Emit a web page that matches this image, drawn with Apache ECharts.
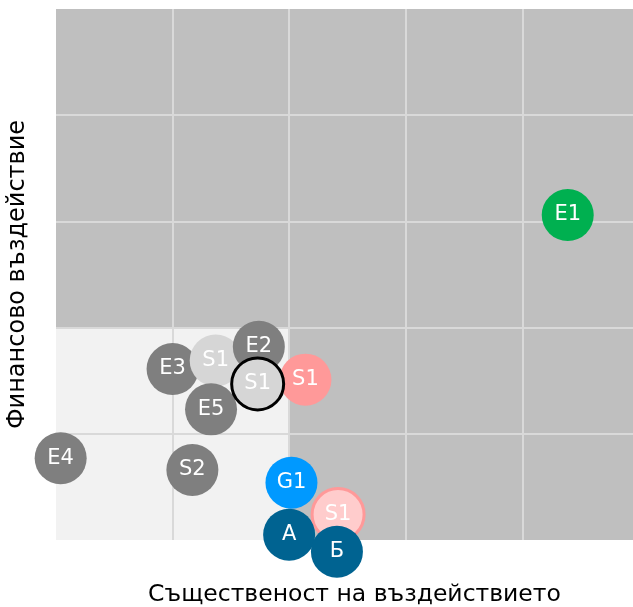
<!DOCTYPE html>
<html>
<head>
<meta charset="utf-8">
<script src="https://cdn.jsdelivr.net/npm/echarts@6/dist/echarts.min.js"></script>
<style>
  html, body { margin: 0; padding: 0; background: #fff; }
  #chart { width: 633px; height: 607px; }
</style>
</head>
<body>
<div id="chart"></div>
<script>
// bubbles, in drawing order (later ones on top)
const labels = ["E3", "S1", "E2", "E5", "S1", "S1", "E4", "S2", "G1", "S1", "A", "Б", "E1"];
const kinds = ["E", "S1gray", "E", "E", "S1pink", "S1ring", "E", "E", "G", "S1light", "AB", "AB", "E1"];
const xValues = [1.0, 1.37, 1.74, 1.33, 2.14, 1.73, 0.04, 1.17, 2.02, 2.42, 2.0, 2.41, 4.39];
const yValues = [1.61, 1.69, 1.82, 1.23, 1.51, 1.47, 0.77, 0.66, 0.54, 0.24, 0.05, -0.11, 3.06];

const xName = "Същественост на въздействието";
const yName = "Финансово въздействие";

const kindStyle = {
  E: { color: "#7f7f7f" },
  S1gray: { color: "#d6d6d6" },
  S1ring: { color: "#d6d6d6", borderColor: "#000", borderWidth: 3 },
  S1pink: { color: "#ff9999" },
  S1light: { color: "#ffcccc", borderColor: "#ff9999", borderWidth: 3 },
  G: { color: "#0099ff" },
  AB: { color: "#006391" },
  E1: { color: "#00b050" }
};

const points = labels.map((name, i) => ({
  name: name,
  value: [xValues[i], yValues[i]],
  itemStyle: Object.assign({ opacity: 1 }, kindStyle[kinds[i]])
}));

const chart = echarts.init(document.getElementById("chart"));
chart.setOption({
  animation: false,
  textStyle: { fontFamily: "DejaVu Sans" },
  grid: {
    left: 56, right: 0, top: 9, bottom: 67,
    outerBoundsMode: "none", containLabel: false,
    show: true, backgroundColor: "#bfbfbf", borderWidth: 0
  },
  xAxis: {
    type: "value", min: 0, max: 4.95, interval: 1, z: 2,
    name: xName, nameLocation: "middle", nameGap: 43,
    nameTextStyle: { fontSize: 23.5, color: "#000", fontFamily: "DejaVu Sans", padding: [0, 0, 0, 20] },
    axisLine: { show: false }, axisTick: { show: false }, axisLabel: { show: false },
    splitLine: { showMinLine: false, showMaxLine: false, lineStyle: { color: "#d9d9d9", width: 2 } }
  },
  yAxis: {
    type: "value", min: 0, max: 5, interval: 1, z: 2,
    name: yName, nameLocation: "middle", nameGap: 26,
    nameTextStyle: { fontSize: 24, color: "#000", fontFamily: "DejaVu Sans" },
    axisLine: { show: false }, axisTick: { show: false }, axisLabel: { show: false },
    splitLine: { showMinLine: false, showMaxLine: false, lineStyle: { color: "#d9d9d9", width: 2 } }
  },
  series: [
    {
      type: "scatter", z: 1, data: [], silent: true,
      markArea: {
        silent: true,
        itemStyle: { color: "#f2f2f2" },
        data: [[{ coord: [0, 0] }, { coord: [2, 2] }]]
      }
    },
    {
      type: "scatter", z: 3, clip: false,
      symbolSize: 52,
      data: points,
      label: {
        show: true, position: "inside", formatter: "{b}",
        color: "#fff", fontSize: 21, fontFamily: "DejaVu Sans"
      }
    }
  ]
});
</script>
</body>
</html>
